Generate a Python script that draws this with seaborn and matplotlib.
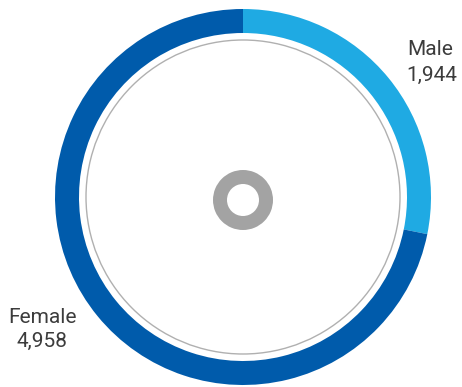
import matplotlib
matplotlib.use("Agg")
import matplotlib.pyplot as plt
from matplotlib.patches import Circle
import seaborn as sns

# Headcount by gender
categories = ["Male", "Female"]
counts = [1944, 4958]
value_labels = ["1,944", "4,958"]

sns.set_theme(style="white")
plt.rcParams["font.family"] = ["Roboto", "Liberation Sans", "DejaVu Sans"]

ring_colors = sns.color_palette(["#1faae3", "#005bab"])

W, H = 462, 387
fig = plt.figure(figsize=(W / 100, H / 100), dpi=100)
ax = fig.add_axes([0, 0, 1, 1])
ax.set_xlim(0, W)
ax.set_ylim(0, H)
ax.set_aspect("equal")
ax.axis("off")

cx, cy = 243, 190

# Outer donut ring, starting at 12 o'clock and running clockwise
ax.pie(counts, colors=ring_colors, startangle=90, counterclock=False,
       radius=188, center=(cx, cy),
       wedgeprops=dict(width=24, linewidth=0))

# Thin inner guide circle
ax.add_patch(Circle((cx, cy), 157, fill=False, edgecolor="#b0b0b0", linewidth=1.0))

# Small grey ring in the middle
ax.pie([1], colors=["#a3a3a3"], radius=30, center=(cx, cy - 3),
       wedgeprops=dict(width=14, linewidth=0))

ax.set_xlim(0, W)
ax.set_ylim(0, H)

text_kw = dict(fontsize=15, color="#3c3c3c", ha="center", va="baseline",
               fontweight="normal")
ax.text(430, H - 55, categories[0], **text_kw)
ax.text(432, H - 81, value_labels[0], **text_kw)
ax.text(42, H - 323, categories[1], **text_kw)
ax.text(42, H - 347, value_labels[1], **text_kw)

fig.savefig("out.png", dpi=100, facecolor="white")
